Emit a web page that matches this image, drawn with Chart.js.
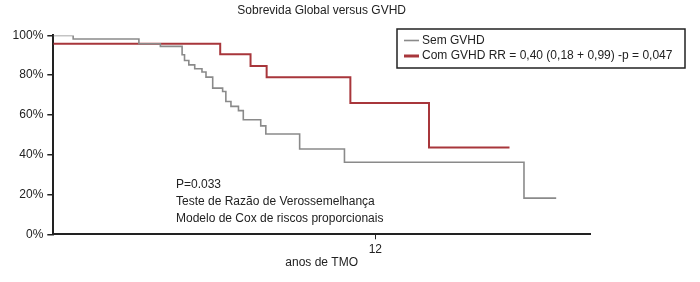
<!DOCTYPE html>
<html>
<head>
<meta charset="utf-8">
<script src="https://cdn.jsdelivr.net/npm/chart.js@4"></script>
<style>
html,body{margin:0;padding:0;background:#fff;}
canvas{display:block;}
</style>
</head>
<body>
<canvas id="c" width="700" height="282"></canvas>
<script>
// ---- data ----
const chartTitle = 'Sobrevida Global versus GVHD';
const xAxisTitle = 'anos de TMO';
const xTicks = [12];
const yTicks = [0, 20, 40, 60, 80, 100];

const semLabel = 'Sem GVHD';
const semTimes = [0, 0.74, 3.19, 3.99, 4.80, 4.89, 5.05, 5.27, 5.54, 5.69, 5.94, 6.31, 6.43, 6.62, 6.90, 7.08, 7.73, 7.92, 9.18, 10.85, 17.54, 18.74];
const semSurv  = [100, 98.2, 95.8, 94.5, 90.3, 87.4, 85.2, 83.2, 81.6, 79.0, 73.5, 71.8, 66.8, 64.3, 62.2, 57.6, 54.5, 50.4, 42.9, 36.2, 18.2, 18.2];

const comLabel = 'Com GVHD RR = 0,40 (0,18 + 0,99) -p = 0,047';
const comTimes = [0, 6.22, 7.35, 7.95, 11.07, 14.0, 17.0];
const comSurv  = [95.8, 90.5, 84.6, 78.9, 66.0, 43.6, 43.6];

const noteLines = ['P=0.033', 'Teste de Razão de Verossemelhança', 'Modelo de Cox de riscos proporcionais'];

// ---- styling ----
const FONT = '"Liberation Sans", Arial, Helvetica, sans-serif';
const INK = '#222222';
const GRAY = '#8a8a8a';
const RED = '#a8363b';

const toPts = (ts, vs) => ts.map((t, i) => ({x: t, y: vs[i]}));

const overlay = {
  id: 'overlay',
  afterDraw(chart) {
    const ctx = chart.ctx;
    ctx.save();
    // annotation text
    ctx.font = '12px ' + FONT;
    ctx.fillStyle = INK;
    ctx.textBaseline = 'middle';
    ctx.textAlign = 'left';
    const ny = [184.5, 202, 219];
    noteLines.forEach((s, i) => ctx.fillText(s, 176, ny[i]));
    // legend box
    ctx.strokeStyle = INK;
    ctx.lineWidth = 1.5;
    ctx.strokeRect(397, 29, 288, 39);
    const ly = [40.5, 56];
    const widths = [1.6, 3];
    chart.data.datasets.forEach((ds, i) => {
      ctx.strokeStyle = ds.borderColor;
      ctx.lineWidth = widths[i];
      ctx.beginPath();
      ctx.moveTo(404, ly[i]);
      ctx.lineTo(419, ly[i]);
      ctx.stroke();
      ctx.fillStyle = INK;
      ctx.fillText(ds.label, 422, ly[i]);
    });
    ctx.restore();
  }
};

new Chart(document.getElementById('c'), {
  type: 'line',
  data: {
    datasets: [
      {label: semLabel, data: toPts(semTimes, semSurv), borderColor: GRAY, borderWidth: 1.6,
       stepped: true, pointRadius: 0, fill: false},
      {label: comLabel, data: toPts(comTimes, comSurv), borderColor: RED, borderWidth: 2,
       stepped: true, pointRadius: 0, fill: false}
    ]
  },
  options: {
    responsive: false,
    animation: false,
    devicePixelRatio: 1,
    layout: {padding: {top: 0, right: 110, bottom: 0, left: 0}},
    scales: {
      x: {
        type: 'linear', min: 0, max: 20,
        afterBuildTicks: s => { s.ticks = xTicks.map(v => ({value: v})); },
        afterFit: s => { s.height = 47.7; },
        grid: {display: true, drawOnChartArea: false, drawTicks: true, tickLength: 5, color: INK, lineWidth: 1},
        border: {display: true, color: INK, width: 2},
        ticks: {color: INK, font: {size: 12, family: FONT, lineHeight: 1}, padding: 4, maxRotation: 0},
        title: {display: true, text: xAxisTitle, color: INK, font: {size: 12, family: FONT, lineHeight: 1}, padding: {top: 0, bottom: 13}}
      },
      y: {
        type: 'linear', min: 0, max: 100,
        afterBuildTicks: s => { s.ticks = yTicks.map(v => ({value: v})); },
        afterFit: s => { s.width = 53.3; },
        grid: {display: true, drawOnChartArea: false, drawTicks: true, tickLength: 6, color: INK, lineWidth: 1.5},
        border: {display: true, color: INK, width: 2},
        ticks: {color: INK, font: {size: 12, family: FONT}, padding: 4, callback: v => v + '%'}
      }
    },
    plugins: {
      legend: {display: false},
      tooltip: {enabled: false},
      title: {display: true, text: chartTitle, fullSize: false, color: INK,
              font: {size: 12, family: FONT, weight: 'normal'}, padding: {top: 3, bottom: 18}}
    }
  },
  plugins: [overlay]
});
</script>
</body>
</html>
